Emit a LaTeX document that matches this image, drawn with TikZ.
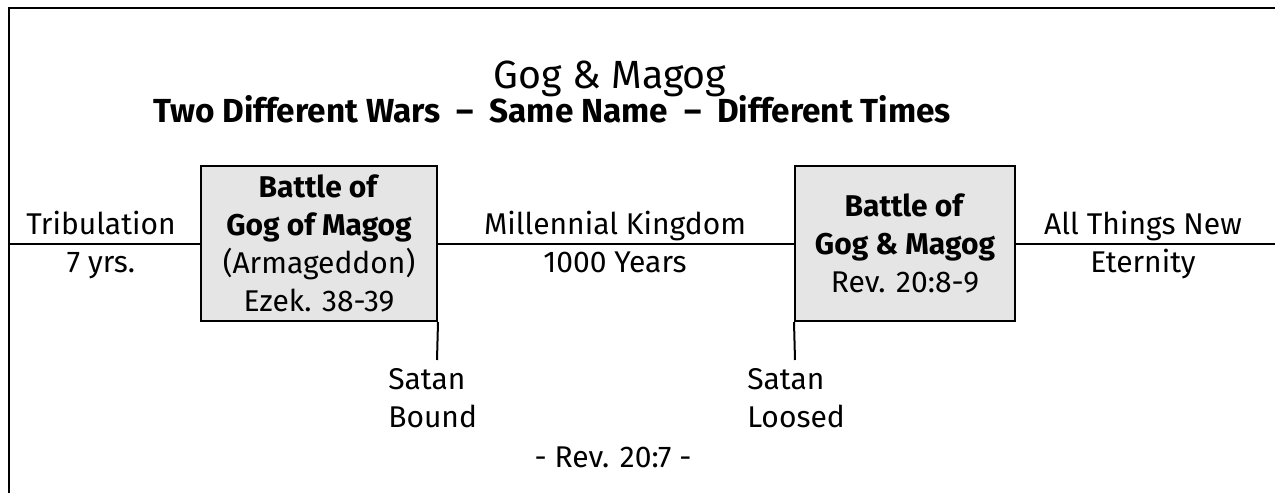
\documentclass[tikz,border=0pt]{standalone}
\usepackage{fontspec}
\setmainfont{Fira Sans}
\usepackage{tikz}
\tikzset{
    %Define style for battle boxes
    battle/.style={
           rectangle,
           draw=black, line width=1.5pt,
           fill=black!10,
           minimum height=116.25pt,
           inner sep=0pt,
           align=center,
           font=\fontsize{22.5}{28.5}\selectfont},
    %Define style for plain labels
    era/.style={
           inner sep=0pt,
           align=center,
           font=\fontsize{22.5}{28.5}\selectfont},
    heading/.style={
           inner sep=0pt,
           anchor=base,
           font=\fontsize{29.5}{35}\selectfont},
    subheading/.style={
           inner sep=0pt,
           anchor=base,
           font=\bfseries\fontsize{25}{30}\selectfont},
    % Define line style
    tline/.style={line width=1.5pt}
}

\begin{document}
\begin{tikzpicture}[x=0.75pt,y=-0.75pt]
\useasboundingbox (0,0) rectangle (1275,493);
 %frame
\draw[tline] (9,493) |- (1275,8);
 %headings
\node[heading] (title) at (610,88) {Gog \& Magog};
\node[subheading] (sub) at (552,122) {Two Different Wars \ -- \ Same Name \ -- \ Different Times};
 %battles
\node[battle, minimum width=177pt] (gog1) at (319,243.5)
    {\textbf{Battle of}\\\textbf{Gog of Magog}\\(Armageddon)\\Ezek. 38-39};
\node[battle, minimum width=165pt] (gog2) at (905,243.5)
    {\textbf{Battle of}\\\textbf{Gog \& Magog}\\Rev. 20:8-9};
 %line ends
\coordinate (start) at (9,243.5);
\coordinate (stop) at (1275,243.5);
\coordinate (bound) at (437,360);
\coordinate (loosed) at (795,360);
\draw[tline] (start) -- (gog1) -- (gog2) -- (stop);
\draw[tline] (gog1.south east) -- (bound);
\draw[tline] (gog2.south west) -- (loosed);
 %eras
\node[era] (trib) at (101,244.5) {Tribulation\\7 yrs.};
\node[era] (mill) at (615,241.5) {Millennial Kingdom\\1000 Years};
\node[era] (new) at (1143,244.5) {All Things New\\Eternity};
\node[era, align=left, anchor=north west] (satb) at (388,368) {Satan\\Bound};
\node[era, align=left, anchor=north west] (satl) at (747,368) {Satan\\Loosed};
\node[era, anchor=base] (rev) at (613,467) {- Rev. 20:7 -};
\end{tikzpicture}
\end{document}
